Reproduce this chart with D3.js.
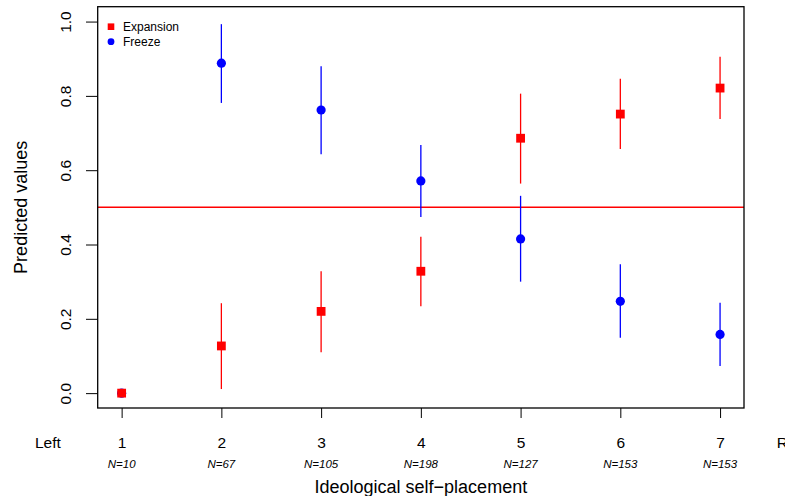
<!DOCTYPE html>
<html>
<head>
<meta charset="utf-8">
<script src="https://cdn.jsdelivr.net/npm/d3@7"></script>
<style>
  html, body { margin: 0; padding: 0; background: #fff; }
  svg { display: block; font-family: "Liberation Sans", Arial, Helvetica, sans-serif; }
</style>
</head>
<body>
<svg id="chart" width="785" height="496"></svg>
<script>
// ---- data ----
const positions = [1, 2, 3, 4, 5, 6, 7];
const nLabels = ["N=10", "N=67", "N=105", "N=198", "N=127", "N=153", "N=153"];

const expansionFit   = [0.000, 0.127, 0.220, 0.328, 0.686, 0.751, 0.821];
const expansionLower = [0.000, 0.011, 0.110, 0.234, 0.564, 0.657, 0.738];
const expansionUpper = [0.000, 0.242, 0.328, 0.421, 0.806, 0.846, 0.905];

const freezeFit   = [0.000, 0.888, 0.762, 0.571, 0.415, 0.247, 0.158];
const freezeLower = [0.000, 0.781, 0.643, 0.474, 0.300, 0.149, 0.073];
const freezeUpper = [0.000, 0.993, 0.880, 0.668, 0.531, 0.347, 0.243];

const yTicks = [0.0, 0.2, 0.4, 0.6, 0.8, 1.0];
const endLabels = [{pos: 0.26, text: "Left"}, {pos: 7.75, text: "Right"}];
const refLine = 0.5;

// ---- layout ----
const svg = d3.select("#chart");
const pLeft = 97.7, pRight = 744, pTop = 6.7, pBottom = 408;

const x = d3.scaleLinear().domain([0.76, 7.24]).range([pLeft, pRight]);
const y = d3.scaleLinear().domain([-0.04, 1.04]).range([pBottom, pTop]);

// reference line
svg.append("line")
  .attr("x1", pLeft).attr("x2", pRight)
  .attr("y1", y(refLine)).attr("y2", y(refLine))
  .attr("stroke", "#ff0000").attr("stroke-width", 1.5);

// x axis ticks
const xAxis = svg.append("g")
  .attr("transform", `translate(0,${pBottom})`)
  .call(d3.axisBottom(x).tickValues(positions).tickSize(10).tickPadding(19)
        .tickFormat(d3.format("d")));
xAxis.select(".domain").remove();
xAxis.selectAll("line").attr("stroke", "#000").attr("stroke-width", 1);
xAxis.selectAll("text").attr("font-size", 15.5).attr("fill", "#000")
  .attr("font-family", "Liberation Sans, Arial, sans-serif");

// y axis ticks
const yAxis = svg.append("g")
  .attr("transform", `translate(${pLeft},0)`)
  .call(d3.axisLeft(y).tickValues(yTicks).tickSize(11.7).tickFormat(d3.format(".1f")));
yAxis.select(".domain").remove();
yAxis.selectAll("line").attr("stroke", "#000").attr("stroke-width", 1);
yAxis.selectAll("text").remove();
yAxis.selectAll(".tick").append("text")
  .attr("transform", "translate(-27,0) rotate(-90)")
  .attr("text-anchor", "middle")
  .attr("font-size", 15.5)
  .attr("fill", "#000")
  .attr("font-family", "Liberation Sans, Arial, sans-serif")
  .text(d => d3.format(".1f")(d));

// end labels Left / Right
svg.selectAll("text.endlab").data(endLabels).join("text")
  .attr("class", "endlab")
  .attr("x", d => x(d.pos)).attr("y", 447.7)
  .attr("text-anchor", "middle").attr("font-size", 15.5)
  .text(d => d.text);

// N labels
svg.selectAll("text.nlab").data(positions).join("text")
  .attr("class", "nlab")
  .attr("x", d => x(d)).attr("y", 467.5)
  .attr("text-anchor", "middle").attr("font-size", 11.5)
  .attr("font-style", "italic")
  .text((d, i) => nLabels[i]);

// axis titles
svg.append("text")
  .attr("x", (pLeft + pRight) / 2).attr("y", 492.5)
  .attr("text-anchor", "middle").attr("font-size", 18)
  .text("Ideological self\u2212placement");

svg.append("text")
  .attr("transform", `translate(27,${y(0.5)}) rotate(-90)`)
  .attr("text-anchor", "middle").attr("font-size", 18)
  .text("Predicted values");

// series: freeze (blue circles) first
const gF = svg.append("g");
gF.selectAll("line").data(positions).join("line")
  .attr("x1", d => x(d)).attr("x2", d => x(d))
  .attr("y1", (d, i) => y(freezeLower[i])).attr("y2", (d, i) => y(freezeUpper[i]))
  .attr("stroke", "#0000ff").attr("stroke-width", 1.3);
gF.selectAll("circle").data(positions).join("circle")
  .attr("cx", d => x(d)).attr("cy", (d, i) => y(freezeFit[i]))
  .attr("r", 4.6).attr("fill", "#0000ff");

// expansion (red squares)
const sq = 8.8;
const gE = svg.append("g");
gE.selectAll("line").data(positions).join("line")
  .attr("x1", d => x(d)).attr("x2", d => x(d))
  .attr("y1", (d, i) => y(expansionLower[i])).attr("y2", (d, i) => y(expansionUpper[i]))
  .attr("stroke", "#ff0000").attr("stroke-width", 1.3);
gE.selectAll("rect").data(positions).join("rect")
  .attr("x", d => x(d) - sq / 2).attr("y", (d, i) => y(expansionFit[i]) - sq / 2)
  .attr("width", sq).attr("height", sq).attr("fill", "#ff0000");

// legend
const legend = svg.append("g");
legend.append("rect").attr("x", 111 - 3.3).attr("y", 26.7 - 3.3)
  .attr("width", 6.6).attr("height", 6.6).attr("fill", "#ff0000");
legend.append("circle").attr("cx", 111).attr("cy", 41.7).attr("r", 3.4).attr("fill", "#0000ff");
legend.append("text").attr("x", 123).attr("y", 30.8).attr("font-size", 12).text("Expansion");
legend.append("text").attr("x", 123).attr("y", 45.8).attr("font-size", 12).text("Freeze");

// plot box
svg.append("rect")
  .attr("x", pLeft).attr("y", pTop)
  .attr("width", pRight - pLeft).attr("height", pBottom - pTop)
  .attr("fill", "none").attr("stroke", "#000").attr("stroke-width", 1.3);
</script>
</body>
</html>
